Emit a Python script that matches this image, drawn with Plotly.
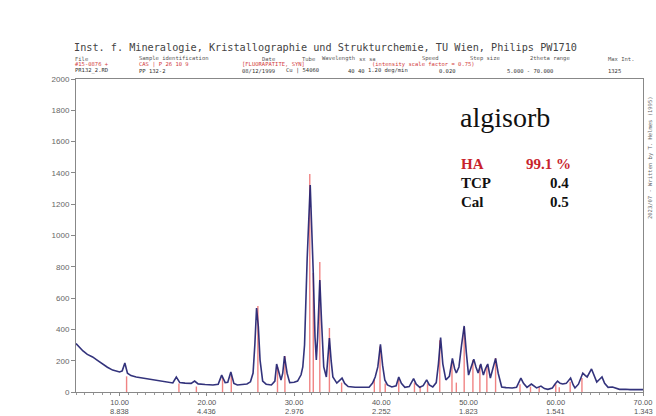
import plotly.graph_objects as go

# ---- data ----
two_theta = [5.0, 5.4, 5.8, 6.3, 6.9, 7.5, 8.0, 8.6, 9.2, 9.7, 10.0, 10.3, 10.6, 10.9, 11.3,
             11.9, 12.6, 13.4, 14.2, 14.9, 15.6, 16.1, 16.5, 16.9, 17.5, 18.2, 18.6, 19.0,
             19.8, 20.7, 21.3, 21.7, 22.1, 22.4, 22.75, 23.1, 23.5, 24.1, 24.6, 25.0, 25.3,
             25.5, 25.7, 25.9, 26.1, 26.4, 26.8, 27.4, 27.8, 28.0, 28.3, 28.5, 28.7, 28.9,
             29.2, 29.5, 30.0, 30.4, 30.8, 31.0, 31.2, 31.5, 31.85, 32.05, 32.2, 32.4, 32.55,
             32.7, 32.95, 33.15, 33.4, 33.7, 33.85, 34.05, 34.25, 34.45, 34.9, 35.5, 35.8,
             36.2, 37.0, 37.8, 38.6, 39.0, 39.3, 39.6, 39.9, 40.15, 40.4, 40.7, 41.2, 41.7,
             42.0, 42.3, 42.7, 43.2, 43.7, 44.0, 44.4, 44.8, 45.2, 45.5, 45.9, 46.3, 46.55,
             46.8, 47.05, 47.4, 47.8, 48.15, 48.4, 48.6, 48.9, 49.2, 49.5, 49.75, 50.0, 50.25,
             50.6, 50.85, 51.1, 51.4, 51.7, 51.95, 52.2, 52.5, 52.8, 53.1, 53.4, 53.8, 54.3,
             55.0, 55.5, 55.8, 56.0, 56.3, 56.7, 57.2, 57.6, 57.8, 58.3, 58.7, 59.1, 59.6,
             59.9, 60.2, 60.5, 60.8, 61.2, 61.7, 62.0, 62.2, 62.6, 63.1, 63.4, 63.6, 64.1,
             64.4, 64.7, 65.0, 65.3, 65.6, 66.0, 66.5, 66.9, 67.3, 68.0, 68.5, 69.2, 70.0]
intensity = [310, 285, 262, 240, 224, 200, 179, 158, 140, 132, 128, 135, 185, 120, 105,
             96, 90, 83, 77, 70, 65, 58, 96, 60, 57, 55, 70, 52,
             48, 45, 50, 108, 60, 62, 128, 55, 45, 48, 51, 65, 121,
             300, 537, 420, 204, 70, 50, 45, 70, 179, 110, 77, 120, 230,
             120, 60, 62, 70, 110, 160, 300, 850, 1323, 900, 760, 350, 204,
             350, 716, 450, 160, 96, 200, 345, 200, 96, 57, 89, 55,
             35, 30, 28, 30, 57, 96, 160, 305, 170, 77, 45, 32, 40,
             96, 55, 30, 35, 85, 50, 30, 40, 77, 45, 32, 60, 180,
             347, 180, 77, 100, 215, 150, 121, 160, 300, 422, 250, 108, 150,
             210, 160, 121, 179, 108, 150, 179, 89, 150, 215, 120, 32, 28,
             26, 30, 60, 89, 55, 30, 51, 30, 26, 38, 22, 17, 25,
             50, 70, 55, 51, 55, 89, 45, 26, 50, 121, 105, 96, 147,
             100, 64, 80, 96, 55, 30, 32, 22, 17, 18, 15, 16, 15]

ref_pos = [10.8, 16.8, 18.8, 21.8, 22.8, 25.85, 28.1, 28.95, 31.8, 32.2, 32.95, 34.05,
           35.45, 39.2, 39.85, 40.45, 42.0, 43.8, 44.45, 45.3, 46.7, 48.1, 48.6, 49.5,
           50.5, 51.3, 52.1, 53.1, 55.9, 57.1, 58.1, 60.0, 60.4, 61.65, 63.0]
ref_height = [100, 55, 35, 90, 105, 550, 160, 230, 1393, 760, 831, 409,
              60, 80, 290, 55, 80, 60, 30, 55, 330, 185, 60, 415,
              204, 172, 172, 217, 50, 35, 30, 50, 30, 65, 90]

x_ticks = [10, 20, 30, 40, 50, 60, 70]
x_tick_deg = ["10.00", "20.00", "30.00", "40.00", "50.00", "60.00", "70.00"]
x_tick_d = ["8.838", "4.436", "2.976", "2.252", "1.823", "1.541", "1.343"]
y_ticks = [0, 200, 400, 600, 800, 1000, 1200, 1400, 1600, 1800, 2000]

# ---- figure ----
sx, sy = [], []
for p, h in zip(ref_pos, ref_height):
    sx += [p, p, None]
    sy += [0, h, None]

fig = go.Figure()
fig.add_trace(go.Scatter(x=sx, y=sy, mode="lines",
                         line=dict(color="rgba(235,90,90,0.75)", width=1.4), hoverinfo="skip"))
fig.add_trace(go.Scatter(x=two_theta, y=intensity, mode="lines",
                         line=dict(color="#1d1d6e", width=1.6), opacity=0.9, hoverinfo="skip"))

L, R, T, B = 76, 13, 79, 24
W, H = 656, 416
pw, ph = W - L - R, H - T - B


def px(x):
    return (x - L) / pw


def py(y):
    return (H - B - y) / ph


mono = "DejaVu Sans Mono"
anns = []


def add(text, x, y, size, color, family=mono, bold=False, **kw):
    if bold:
        text = "<b>" + text + "</b>"
    anns.append(dict(text=text, x=px(x), y=py(y), xref="paper", yref="paper",
                     xanchor=kw.get("xanchor", "left"), yanchor="middle",
                     showarrow=False, textangle=kw.get("angle", 0),
                     font=dict(family=family, size=size, color=color)))


add("Inst. f. Mineralogie, Kristallographie und Strukturchemie, TU Wien, Philips PW1710",
    72, 48, 10.2, "#444444")
hdr = [("File", 73), ("Sample identification", 137), ("Date", 260), ("Tube", 300),
       ("Wavelength", 320), ("sx sa", 357), ("Speed", 420), ("Step size", 468),
       ("2theta range", 528), ("Max Int.", 606)]
for t, x in hdr:
    add(t, x, 58.5, 5.5, "#555555")
red1 = [("#15-0876 +", 73), ("CAS | P 26 10 9", 137), ("[FLUORAPATITE, SYN]", 240),
        ("(intensity scale factor = 0.75)", 370)]
for t, x in red1:
    add(t, x, 64.5, 5.5, "#d23c3c")
blk = [("PR132_2.RD", 73), ("PP 132-2", 137), ("08/12/1999", 240), ("Cu | 54060", 284),
       ("40 40", 346), ("1.20 deg/min", 366), ("0.020", 437), ("5.000 - 70.000", 505),
       ("1325", 606)]
for t, x in blk:
    add(t, x, 71, 5.5, "#333333")

serif = "Liberation Serif"
add("algisorb", 458, 117, 28, "#111111", family=serif)
add("HA", 459, 164, 15, "#c8232c", family=serif, bold=True)
add("99.1 %", 524, 164, 15, "#c8232c", family=serif, bold=True)
add("TCP", 459, 183, 15, "#111111", family=serif, bold=True)
add("0.4", 548, 183, 15, "#111111", family=serif, bold=True)
add("Cal", 459, 202, 15, "#111111", family=serif, bold=True)
add("0.5", 548, 202, 15, "#111111", family=serif, bold=True)
add("2023/07 - Written by T. Helmes (1995)", 650, 158, 5.5, "#666666",
    angle=-90, xanchor="center")

# second line of the x tick labels (d-spacing), placed under each tick value
for v, d in zip(x_ticks, x_tick_d):
    anns.append(dict(text=d, x=v, y=py(411), xref="x", yref="paper",
                     xanchor="center", yanchor="middle", showarrow=False,
                     font=dict(family="Liberation Sans", size=7.5, color="#555555")))

fig.update_layout(
    width=W, height=H, margin=dict(l=L, r=R, t=T, b=B, autoexpand=False),
    paper_bgcolor="white", plot_bgcolor="white", showlegend=False,
    annotations=anns,
    xaxis=dict(range=[5, 70], tickvals=x_ticks, ticktext=x_tick_deg,
               ticks="outside", ticklen=3, tickcolor="#888888",
               minor=dict(dtick=1, ticks="outside", ticklen=2, tickcolor="#999999"),
               showline=True, linecolor="#888888", linewidth=1, mirror=True,
               showgrid=False, zeroline=False, automargin=False,
               tickfont=dict(family="Liberation Sans", size=7.5, color="#555555")),
    yaxis=dict(range=[0, 2000], tickvals=y_ticks,
               ticks="outside", ticklen=4, tickcolor="#888888",
               showline=True, linecolor="#888888", linewidth=1, mirror=True,
               showgrid=False, zeroline=False, automargin=False,
               tickfont=dict(family="Liberation Sans", size=8, color="#666666")),
)

fig.write_html("out.html", config={"displayModeBar": False},
               post_script="document.body.style.margin='0';document.body.style.overflow='hidden';")
